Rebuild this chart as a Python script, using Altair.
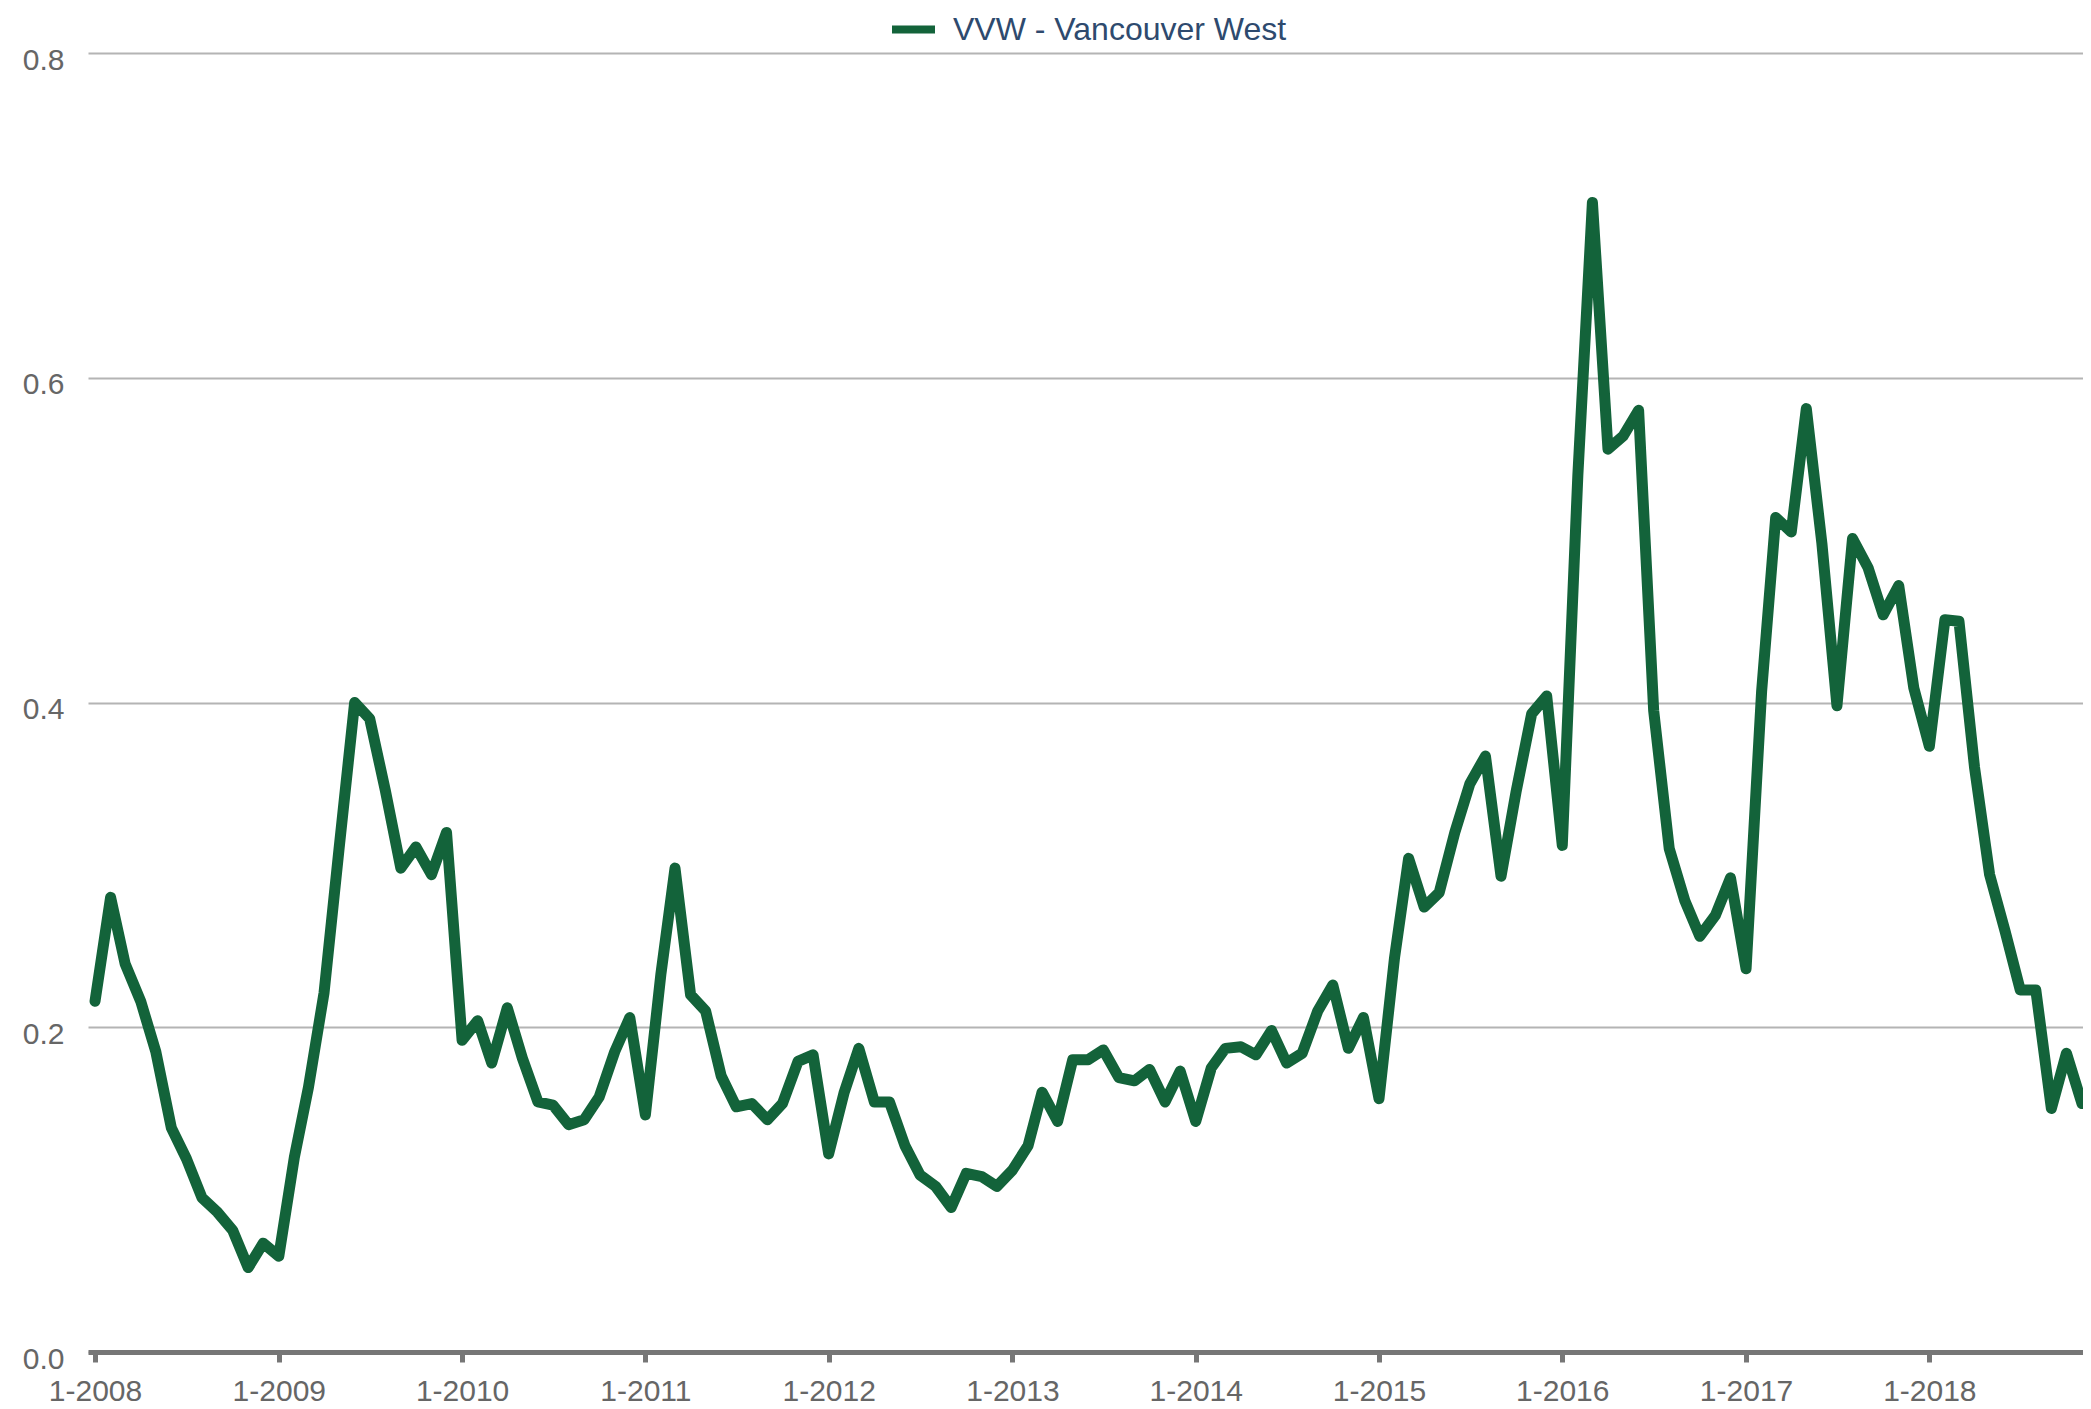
import altair as alt
import pandas as pd

# Monthly values, Jan 2008 .. Nov 2018
series_name = "VVW - Vancouver West"
start_year = 2008
values_2008 = [0.216, 0.280, 0.239, 0.216, 0.185, 0.138, 0.119, 0.095, 0.086, 0.075, 0.052, 0.067]
values_2009 = [0.059, 0.120, 0.163, 0.221, 0.310, 0.400, 0.390, 0.346, 0.298, 0.311, 0.294, 0.320]
values_2010 = [0.192, 0.204, 0.178, 0.212, 0.181, 0.154, 0.152, 0.140, 0.143, 0.157, 0.185, 0.206]
values_2011 = [0.146, 0.233, 0.298, 0.220, 0.210, 0.170, 0.151, 0.153, 0.143, 0.153, 0.179, 0.183]
values_2012 = [0.122, 0.160, 0.187, 0.154, 0.154, 0.127, 0.109, 0.102, 0.089, 0.110, 0.108, 0.102]
values_2013 = [0.112, 0.127, 0.160, 0.142, 0.180, 0.180, 0.186, 0.169, 0.167, 0.174, 0.154, 0.173]
values_2014 = [0.142, 0.175, 0.187, 0.188, 0.183, 0.198, 0.178, 0.184, 0.210, 0.226, 0.187, 0.206]
values_2015 = [0.156, 0.243, 0.304, 0.274, 0.283, 0.320, 0.350, 0.367, 0.293, 0.345, 0.393, 0.404]
values_2016 = [0.312, 0.540, 0.708, 0.556, 0.564, 0.580, 0.395, 0.310, 0.278, 0.256, 0.269, 0.292]
values_2017 = [0.236, 0.407, 0.514, 0.505, 0.581, 0.498, 0.398, 0.501, 0.483, 0.454, 0.472, 0.409]
values_2018 = [0.373, 0.451, 0.450, 0.360, 0.294, 0.259, 0.223, 0.223, 0.150, 0.184, 0.153]

yearly = [values_2008, values_2009, values_2010, values_2011, values_2012, values_2013,
          values_2014, values_2015, values_2016, values_2017, values_2018]

tick_years = list(range(2008, 2019))
y_ticks = [0.0, 0.2, 0.4, 0.6, 0.8]

rows = []
for i, vals in enumerate(yearly):
    year = start_year + i
    for m, v in enumerate(vals):
        rows.append({"date": f"{year}/{m + 1:02d}/01", "value": v, "series": series_name})
df = pd.DataFrame(rows)

FONT = "Liberation Sans"
LINE_COLOR = "#13633a"

chart = alt.Chart(df).mark_line(
    strokeWidth=11,
    strokeJoin="round",
    strokeCap="round",
    clip=True,
).encode(
    x=alt.X(
        "date:T",
        title=None,
        scale=alt.Scale(
            domain=[alt.DateTime(year=2007, month=12, date=18),
                    alt.DateTime(year=2018, month=11, date=3)],
            nice=False,
        ),
        axis=alt.Axis(
            values=[alt.DateTime(year=y, month=1, date=1) for y in tick_years],
            format="%-m-%Y",
            grid=False,
            domain=True,
            domainColor="#767676",
            domainWidth=5,
            ticks=True,
            tickColor="#767676",
            tickWidth=5,
            tickSize=10,
            labelFont=FONT,
            labelFontSize=30,
            labelColor="#666666",
            labelPadding=14,
            labelFlush=False,
            labelOverlap=False,
        ),
    ),
    y=alt.Y(
        "value:Q",
        title=None,
        scale=alt.Scale(domain=[0, 0.8], nice=False),
        axis=alt.Axis(
            values=y_ticks,
            format=".1f",
            grid=True,
            gridColor="#b4b4b4",
            gridWidth=2,
            domain=False,
            ticks=False,
            tickSize=0,
            labelFont=FONT,
            labelFontSize=30,
            labelColor="#666666",
            labelPadding=24,
            labelOffset=7,
        ),
    ),
    color=alt.Color(
        "series:N",
        scale=alt.Scale(domain=[series_name], range=[LINE_COLOR]),
        legend=alt.Legend(
            title=None,
            orient="none",
            legendX=800,
            legendY=-49,
            direction="horizontal",
            symbolType="stroke",
            symbolStrokeWidth=8,
            symbolSize=1849,
            labelFont=FONT,
            labelFontSize=32,
            labelColor="#2e4a6e",
            labelOffset=14,
            labelLimit=0,
            padding=0,
        ),
    ),
).properties(
    width=1995,
    height=1299,
    padding={"left": 80, "top": 45, "right": 0, "bottom": 57},
    autosize=alt.AutoSizeParams(type="none"),
).configure_view(
    stroke=None,
)

chart.save("out.html", embed_options={"renderer": "svg", "actions": False})
